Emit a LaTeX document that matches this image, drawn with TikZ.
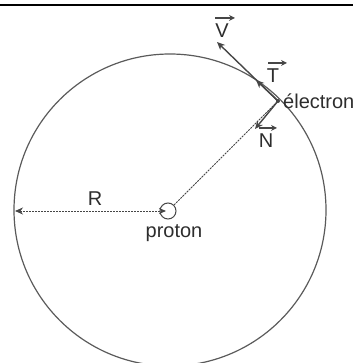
\documentclass[tikz,border=0pt]{standalone}
\usepackage{fontspec}
\setmainfont{Liberation Sans}
\usetikzlibrary{arrows.meta}
\definecolor{txt}{RGB}{45,45,45}
\definecolor{arr}{RGB}{70,70,70}
\definecolor{circ}{RGB}{90,90,90}
\begin{document}
\begin{tikzpicture}[x=1pt,y=-1pt,
  lbl/.style={text=txt,font=\fontsize{20}{22}\selectfont,inner sep=0pt},
  vecarrow/.style={draw=arr,line width=1.4pt,-{Stealth[length=8pt,width=7pt,inset=2.5pt]}},
  overarrow/.style={draw=arr,line width=1.2pt,-{Stealth[length=6pt,width=6pt,inset=2pt]}},
  dashline/.style={draw=arr,line width=1pt,dash pattern=on 2pt off 1pt},
  orbit/.style={draw=circ,line width=1.2pt}]
\useasboundingbox (0,0) rectangle (359,363);
\coordinate (rl) at (0,5);
\coordinate (rr) at (353,5);
\draw[line width=1.3pt] (rl) -- (rr);
\coordinate (c) at (170,210);
\draw[orbit] (c) circle[radius=156];
\node[draw=arr,circle,minimum size=16pt,inner sep=0pt,line width=1pt] (p) at (168,211) {};
\coordinate (e) at (278,101);
\coordinate (redge) at (15,211);
\coordinate (pin) at (166,211);
\draw[dashline] (p) -- (e);
\draw[dashline,{Stealth[length=8pt,width=7pt,inset=2.5pt]}-{Stealth[length=7pt,width=6pt,inset=2pt]}] (redge) -- (pin);
\coordinate (vtip) at (217,42);
\coordinate (ttip) at (256,80);
\coordinate (ntip) at (255,129);
\draw[vecarrow] (e) -- (vtip);
\draw[vecarrow] (e) -- (ttip);
\draw[vecarrow] (e) -- (ntip);
\fill[arr] (e) circle[radius=2pt];
\node[lbl] (lv) at (222,31) {V};
\node[lbl] (lt) at (273,76) {T};
\node[lbl,anchor=west] (le) at (283,101) {électron};
\node[lbl] (ln) at (266,141) {N};
\node[lbl] (lr) at (95,199) {R};
\node[lbl] (lp) at (174,233) {proton};
\draw[overarrow] ([xshift=-7pt,yshift=6pt]lv.north) -- ([xshift=13pt,yshift=6pt]lv.north);
\draw[overarrow] ([xshift=-5pt,yshift=6pt]lt.north) -- ([xshift=14pt,yshift=6pt]lt.north);
\draw[overarrow] ([xshift=-7pt,yshift=6pt]ln.north) -- ([xshift=11pt,yshift=6pt]ln.north);
\end{tikzpicture}
\end{document}
